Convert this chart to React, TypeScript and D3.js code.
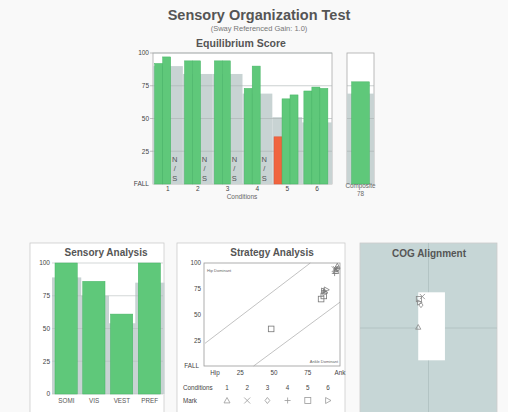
import React from "react";
import * as d3 from "d3";

// Equilibrium score, per condition, 3 trials (null = N/S)
const conditions = ["1", "2", "3", "4", "5", "6"];
const trialScores: (number | null)[][] = [
  [92, 97, null],
  [94, 94, null],
  [94, 94, null],
  [73, 90, null],
  [36, 65, 68],
  [71, 74, 73],
];
const normScores = [90, 84, 84, 69, 51, 47];
const compositeScore = 78;
const compositeNorm = 69;
const scoreTicks = [100, 75, 50, 25];

// Sensory analysis
const sensoryLabels = ["SOMI", "VIS", "VEST", "PREF"];
const sensoryScores = [100, 86, 61, 100];
const sensoryNorms = [89, 75, 54, 85];
const sensoryTicks = [100, 75, 50, 25, 0];

// Strategy analysis: [strategy, equilibrium] per trial
const markSymbols = ["tri", "x", "dia", "plus", "sq", "rtri"];
const strategyPoints: { c: number; s: number; e: number }[] = [
  { c: 0, s: 97, e: 92 }, { c: 0, s: 98, e: 97 },
  { c: 1, s: 97, e: 94 }, { c: 1, s: 96, e: 94 },
  { c: 2, s: 98, e: 94 }, { c: 2, s: 97, e: 94 },
  { c: 3, s: 88, e: 73 }, { c: 3, s: 96, e: 90 },
  { c: 4, s: 49, e: 36 }, { c: 4, s: 86, e: 65 }, { c: 4, s: 88, e: 68 },
  { c: 5, s: 89, e: 71 }, { c: 5, s: 90, e: 74 }, { c: 5, s: 88, e: 73 },
];
const hipLine = [[0, 22], [78, 100]];
const ankleLine = [[36, 0], [100, 62]];
const strategyXTicks = [
  { v: 0, t: "Hip" }, { v: 25, t: "25" }, { v: 50, t: "50" }, { v: 75, t: "75" }, { v: 100, t: "Ank" },
];
const strategyYTicks = [
  { v: 100, t: "100" }, { v: 75, t: "75" }, { v: 50, t: "50" }, { v: 25, t: "25" }, { v: 0, t: "FALL" },
];

// COG alignment
const cogLimits = { x0: -1.5, x1: 2.4, y0: -3.8, y1: 4.2 };
const cogPoints: { c: number; x: number; y: number }[] = [
  { c: 0, x: -1.5, y: 0.1 },
  { c: 4, x: -1.4, y: 3.4 },
  { c: 2, x: -1.1, y: 2.7 },
  { c: 1, x: -0.9, y: 3.7 },
  { c: 5, x: -1.3, y: 3.0 },
];

const GREEN = "#5fc87a";
const GREEN_D = "#45b464";
const NORM = "#c8d3d3";
const RED = "#f0653f";
const TXT = "#444";
const FONT = "'Liberation Sans', Arial, sans-serif";

function Mark({ kind, x, y, r = 3, stroke = "#777" }: { kind: string; x: number; y: number; r?: number; stroke?: string }) {
  const p = { fill: "none", stroke, strokeWidth: 0.8 };
  if (kind === "tri") return <path d={`M${x},${y - r}L${x + r},${y + r * 0.8}L${x - r},${y + r * 0.8}Z`} {...p} />;
  if (kind === "x") return <path d={`M${x - r},${y - r}L${x + r},${y + r}M${x + r},${y - r}L${x - r},${y + r}`} {...p} />;
  if (kind === "dia") return <path d={`M${x},${y - r}L${x + r * 0.8},${y}L${x},${y + r}L${x - r * 0.8},${y}Z`} {...p} />;
  if (kind === "plus") return <path d={`M${x - r},${y}L${x + r},${y}M${x},${y - r}L${x},${y + r}`} {...p} />;
  if (kind === "sq") return <rect x={x - r} y={y - r} width={r * 2} height={r * 2} {...p} />;
  return <path d={`M${x - r * 0.8},${y - r}L${x + r},${y}L${x - r * 0.8},${y + r}Z`} {...p} />;
}

export default function App() {
  // main equilibrium chart
  const y = d3.scaleLinear().domain([0, 100]).range([184, 53]);
  const xc = d3.scaleBand().domain(conditions).range([153, 332]);
  const xt = d3.scaleBand<number>().domain([0, 1, 2]).range([1.7, 25.7]);
  const xComp = d3.scaleBand().domain(["c"]).range([347, 374]).paddingInner(0).paddingOuter(0.26);

  // sensory analysis
  const ys = d3.scaleLinear().domain([0, 100]).range([394, 263]);
  const xs = d3.scaleBand().domain(sensoryLabels).range([52, 163]);

  // strategy
  const sx = d3.scaleLinear().domain([0, 100]).range([205, 340]);
  const sy = d3.scaleLinear().domain([0, 100]).range([366, 263]);
  const markCols = d3.scalePoint().domain(conditions).range([227, 328]);
  const line = d3.line<number[]>().x((d) => sx(d[0])).y((d) => sy(d[1]));

  // cog
  const cx = d3.scaleLinear().domain([-10, 10]).range([360, 497]);
  const cy = d3.scaleLinear().domain([-10, 10]).range([413, 243]);

  return (
    <svg width={508} height={412} style={{ position: "absolute", left: 0, top: 0 }} fontFamily={FONT}>
      <rect width={508} height={412} fill="#f9f9f9" />

      {/* titles */}
      <text x={259} y={20} textAnchor="middle" fontSize={14.5} fontWeight="bold" fill="#555">Sensory Organization Test</text>
      <text x={259} y={31} textAnchor="middle" fontSize={7.5} fill="#777">(Sway Referenced Gain: 1.0)</text>
      <text x={241} y={46.5} textAnchor="middle" fontSize={10.5} fontWeight="bold" fill="#555">Equilibrium Score</text>

      {/* main chart */}
      <rect x={153} y={53} width={179} height={131} fill="#fff" stroke="#aaa" strokeWidth={0.8} />
      {conditions.map((c, i) => (
        <rect key={c} x={xc(c)!} y={y(normScores[i])} width={xc.bandwidth()} height={y(0) - y(normScores[i])} fill={NORM} />
      ))}
      {scoreTicks.map((t) => (
        <line key={t} x1={153} x2={332} y1={y(t)} y2={y(t)} stroke="#a9b2b2" strokeWidth={0.6} />
      ))}
      {conditions.map((c, i) =>
        trialScores[i].map((v, j) => {
          const x0 = xc(c)! + xt(j)!;
          if (v === null)
            return (
              <g key={c + j} fontSize={7.5} fill="#555" textAnchor="middle">
                <text x={x0 + xt.bandwidth() / 2} y={162}>N</text>
                <text x={x0 + xt.bandwidth() / 2} y={171}>/</text>
                <text x={x0 + xt.bandwidth() / 2} y={181}>S</text>
              </g>
            );
          const bad = v < normScores[i];
          return (
            <rect key={c + j} x={x0} y={y(v)} width={xt.bandwidth()} height={y(0) - y(v)}
              fill={bad ? RED : GREEN} stroke={bad ? "#e05030" : GREEN_D} strokeWidth={0.5} />
          );
        })
      )}
      {scoreTicks.map((t) => (
        <g key={t}>
          <line x1={150} x2={153} y1={y(t)} y2={y(t)} stroke="#999" strokeWidth={0.6} />
          <text x={149} y={y(t) + 2.3} textAnchor="end" fontSize={6.5} fill={TXT}>{t}</text>
        </g>
      ))}
      <text x={149} y={y(0) + 2.3} textAnchor="end" fontSize={6.5} fill={TXT}>FALL</text>
      {conditions.map((c) => (
        <text key={c} x={xc(c)! + xc.bandwidth() / 2} y={191} textAnchor="middle" fontSize={6.5} fill={TXT}>{c}</text>
      ))}
      <text x={242} y={198.5} textAnchor="middle" fontSize={6.5} fill="#666">Conditions</text>

      {/* composite */}
      <rect x={347} y={53} width={27} height={131} fill="#fff" stroke="#aaa" strokeWidth={0.8} />
      <rect x={347} y={y(compositeNorm)} width={27} height={y(0) - y(compositeNorm)} fill={NORM} />
      {scoreTicks.slice(1).map((t) => (
        <line key={t} x1={347} x2={374} y1={y(t)} y2={y(t)} stroke="#a9b2b2" strokeWidth={0.6} />
      ))}
      <rect x={xComp("c")!} y={y(compositeScore)} width={xComp.bandwidth()} height={y(0) - y(compositeScore)} fill={GREEN} stroke={GREEN_D} strokeWidth={0.5} />
      <text x={360.5} y={188} textAnchor="middle" fontSize={6.3} fill="#666">Composite</text>
      <text x={360.5} y={196} textAnchor="middle" fontSize={6.3} fill="#666">{compositeScore}</text>

      {/* sensory analysis */}
      <rect x={30} y={243} width={134} height={180} fill="#fff" stroke="#ccc" strokeWidth={0.8} />
      <text x={106} y={256} textAnchor="middle" fontSize={10} fontWeight="bold" fill="#555">Sensory Analysis</text>
      {sensoryLabels.map((s, i) => (
        <rect key={s} x={xs(s)!} y={ys(sensoryNorms[i])} width={xs.bandwidth() + 1.5} height={ys(0) - ys(sensoryNorms[i])} fill={NORM} />
      ))}
      {sensoryTicks.map((t) => (
        <line key={t} x1={52} x2={163} y1={ys(t)} y2={ys(t)} stroke="#b5bdbd" strokeWidth={0.6} />
      ))}
      {sensoryLabels.map((s, i) => (
        <rect key={s} x={xs(s)! + 3} y={ys(sensoryScores[i])} width={xs.bandwidth() - 5.5} height={ys(0) - ys(sensoryScores[i])}
          fill={GREEN} stroke={GREEN_D} strokeWidth={0.5} />
      ))}
      {sensoryTicks.map((t) => (
        <text key={t} x={50} y={ys(t) + 2.3} textAnchor="end" fontSize={6.5} fill={TXT}>{t}</text>
      ))}
      {sensoryLabels.map((s) => (
        <text key={s} x={xs(s)! + xs.bandwidth() / 2 + 0.5} y={403} textAnchor="middle" fontSize={6.3} fill="#555">{s}</text>
      ))}

      {/* strategy analysis */}
      <rect x={177} y={243} width={168} height={180} fill="#fff" stroke="#ccc" strokeWidth={0.8} />
      <text x={272} y={256} textAnchor="middle" fontSize={10} fontWeight="bold" fill="#555">Strategy Analysis</text>
      <rect x={204} y={263} width={136} height={103} fill="#fff" stroke="#999" strokeWidth={0.8} />
      <path d={line(hipLine)!} stroke="#999" strokeWidth={0.6} fill="none" />
      <path d={line(ankleLine)!} stroke="#999" strokeWidth={0.6} fill="none" />
      <text x={207} y={272} fontSize={4} fill="#666">Hip Dominant</text>
      <text x={338} y={363} textAnchor="end" fontSize={4} fill="#666">Ankle Dominant</text>
      {strategyPoints.map((p, i) => (
        <Mark key={i} kind={markSymbols[p.c]} x={sx(p.s)} y={sy(p.e)} r={2.8} />
      ))}
      {strategyYTicks.map((t) => (
        <text key={t.v} x={t.v === 0 ? 199 : 201} y={sy(t.v) + 2.3} textAnchor="end" fontSize={6.3} fill={TXT}>{t.t}</text>
      ))}
      {strategyXTicks.map((t) => (
        <text key={t.v} x={t.v === 0 ? 215 : t.v === 100 ? 340 : sx(t.v) + 1.5} y={375} textAnchor="middle" fontSize={6.3} fill={TXT}>{t.t}</text>
      ))}
      <text x={183} y={390} fontSize={6.3} fill={TXT}>Conditions</text>
      <text x={183} y={403} fontSize={6.3} fill={TXT}>Mark</text>
      {conditions.map((c, i) => (
        <g key={c}>
          <text x={markCols(c)!} y={390} textAnchor="middle" fontSize={6.3} fill={TXT}>{c}</text>
          <Mark kind={markSymbols[i]} x={markCols(c)!} y={400.5} r={3} stroke="#999" />
        </g>
      ))}

      {/* COG alignment */}
      <rect x={360} y={243} width={137} height={180} fill="#c6d6d6" stroke="#ccc" strokeWidth={0.8} />
      <line x1={cx(-10)} x2={cx(10)} y1={cy(0)} y2={cy(0)} stroke="#aebfbf" strokeWidth={0.8} />
      <line x1={cx(0)} x2={cx(0)} y1={cy(10)} y2={cy(-10)} stroke="#aebfbf" strokeWidth={0.8} />
      <rect x={cx(cogLimits.x0)} y={cy(cogLimits.y1)} width={cx(cogLimits.x1) - cx(cogLimits.x0)} height={cy(cogLimits.y0) - cy(cogLimits.y1)} fill="#fff" />
      <text x={429} y={257} textAnchor="middle" fontSize={10} fontWeight="bold" fill="#555">COG Alignment</text>
      {cogPoints.map((p, i) => (
        <Mark key={i} kind={markSymbols[p.c]} x={cx(p.x)} y={cy(p.y)} r={2.6} stroke="#888" />
      ))}
    </svg>
  );
}
